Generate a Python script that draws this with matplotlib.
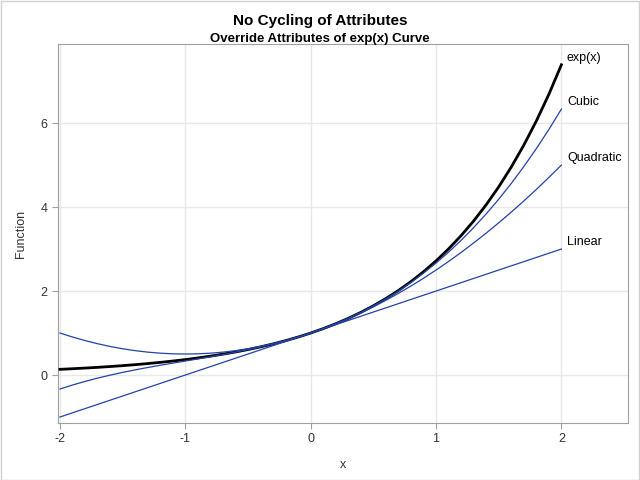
import matplotlib
matplotlib.use("Agg")
import matplotlib.pyplot as plt
from matplotlib.patches import Rectangle

plt.rcParams['font.family'] = ['Liberation Sans', 'DejaVu Sans']
plt.rcParams['axes.unicode_minus'] = False

x = [-2.0, -1.9, -1.8, -1.7, -1.6, -1.5, -1.4, -1.3, -1.2, -1.1, -1.0,
     -0.9, -0.8, -0.7, -0.6, -0.5, -0.4, -0.3, -0.2, -0.1, 0.0,
     0.1, 0.2, 0.3, 0.4, 0.5, 0.6, 0.7, 0.8, 0.9, 1.0,
     1.1, 1.2, 1.3, 1.4, 1.5, 1.6, 1.7, 1.8, 1.9, 2.0]
exp_y = [0.1353, 0.1496, 0.1653, 0.1827, 0.2019, 0.2231, 0.2466, 0.2725, 0.3012, 0.3329, 0.3679,
         0.4066, 0.4493, 0.4966, 0.5488, 0.6065, 0.6703, 0.7408, 0.8187, 0.9048, 1.0,
         1.1052, 1.2214, 1.3499, 1.4918, 1.6487, 1.8221, 2.0138, 2.2255, 2.4596, 2.7183,
         3.0042, 3.3201, 3.6693, 4.0552, 4.4817, 4.9530, 5.4739, 6.0496, 6.6859, 7.3891]
linear = [-1.0, -0.9, -0.8, -0.7, -0.6, -0.5, -0.4, -0.3, -0.2, -0.1, 0.0,
          0.1, 0.2, 0.3, 0.4, 0.5, 0.6, 0.7, 0.8, 0.9, 1.0,
          1.1, 1.2, 1.3, 1.4, 1.5, 1.6, 1.7, 1.8, 1.9, 2.0,
          2.1, 2.2, 2.3, 2.4, 2.5, 2.6, 2.7, 2.8, 2.9, 3.0]
quadratic = [1.0, 0.905, 0.82, 0.745, 0.68, 0.625, 0.58, 0.545, 0.52, 0.505, 0.5,
             0.505, 0.52, 0.545, 0.58, 0.625, 0.68, 0.745, 0.82, 0.905, 1.0,
             1.105, 1.22, 1.345, 1.48, 1.625, 1.78, 1.945, 2.12, 2.305, 2.5,
             2.705, 2.92, 3.145, 3.38, 3.625, 3.88, 4.145, 4.42, 4.705, 5.0]
cubic = [-0.3333, -0.2382, -0.152, -0.0738, -0.0027, 0.0625, 0.1227, 0.1788, 0.232, 0.2832, 0.3333,
         0.3835, 0.4347, 0.4878, 0.544, 0.6042, 0.6693, 0.7405, 0.8187, 0.9048, 1.0,
         1.1052, 1.2213, 1.3495, 1.4907, 1.6458, 1.816, 2.0022, 2.2053, 2.4265, 2.6667,
         2.9268, 3.208, 3.5112, 3.8373, 4.1875, 4.5627, 4.9638, 5.392, 5.8482, 6.3333]

blue = '#2342a8'
grey_text = '#333333'

fig = plt.figure(figsize=(6.4, 4.8), dpi=100)
ax = fig.add_axes([0.0906, 0.119, 0.8904, 0.789])

ax.plot(x, exp_y, color='black', lw=2.0, zorder=3)
for ys in (linear, quadratic, cubic):
    ax.plot(x, ys, color=blue, lw=0.9, zorder=4)

# curve labels at the right end
for ys, name in ((exp_y, 'exp(x)'), (cubic, 'Cubic'), (quadratic, 'Quadratic'), (linear, 'Linear')):
    ax.annotate(name, (x[-1], ys[-1]), xytext=(4, 5), textcoords='offset points',
                ha='left', va='center', fontsize=9, color='black')

ax.set_xlim(-2.016, 2.53)
ax.set_ylim(-1.14, 7.88)
ax.set_xticks([-2, -1, 0, 1, 2])
ax.set_yticks([0, 2, 4, 6])
ax.grid(True, color='#e8e8e8', lw=1)
ax.set_axisbelow(True)
for s in ax.spines.values():
    s.set_color('#a0a0a0')
ax.tick_params(colors='#a0a0a0', labelcolor=grey_text, labelsize=9, length=4)
ax.set_xlabel('x', fontsize=9, color=grey_text, labelpad=10)
ax.set_ylabel('Function', fontsize=9, color=grey_text, labelpad=10)

fig.text(0.5, 0.956, 'No Cycling of Attributes', ha='center', va='center',
         fontsize=11, fontweight='bold')
fig.text(0.5, 0.919, 'Override Attributes of exp(x) Curve', ha='center', va='center',
         fontsize=9.5, fontweight='bold')

fig.patches.append(Rectangle((0.001, 0.001), 0.997, 0.997, transform=fig.transFigure,
                             fill=False, edgecolor='#d0d0d0', lw=1))

fig.savefig('out.png', dpi=100)
